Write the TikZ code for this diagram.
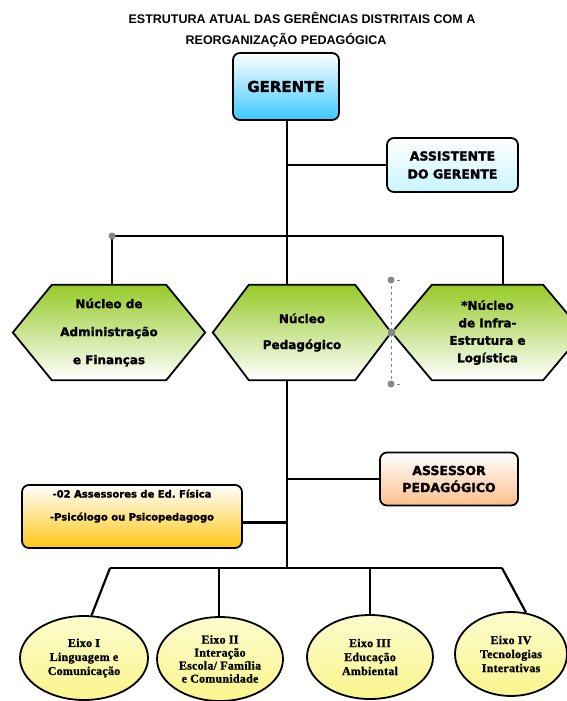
\documentclass[tikz,border=0pt]{standalone}
\usepackage{fontspec}
\setmainfont{Liberation Sans}
\newfontfamily\boxfont{DejaVu Sans}[BoldFeatures={FakeBold=1.6}]
\newfontfamily\eixofont{Liberation Serif}[LetterSpace=2, BoldFeatures={FakeBold=1.2}]
\usetikzlibrary{shapes.geometric, backgrounds}

\definecolor{gerblue}{RGB}{60,200,255}
\definecolor{asscyan}{RGB}{200,245,255}
\definecolor{hexgreen}{RGB}{150,202,40}
\definecolor{peach}{RGB}{255,190,140}
\definecolor{gold}{RGB}{255,200,20}
\definecolor{eixotop}{RGB}{252,252,205}
\definecolor{eixobot}{RGB}{250,245,140}
\definecolor{handle}{RGB}{135,135,135}

% hexagon round a named node: #1 node, #2 inset of the points
\newcommand\hexa[2]{\draw[hexbox] (#1.west) -- ([xshift=#2]#1.north west) -- ([xshift=-#2]#1.north east) -- (#1.east)
    -- ([xshift=-#2]#1.south east) -- ([xshift=#2]#1.south west) -- cycle;}

\begin{document}
\begin{tikzpicture}[x=1pt, y=-1pt,
  conn/.style={line width=2.2pt},
  titulo/.style={font=\bfseries\fontsize{12.5}{14}\selectfont},
  caixa/.style={draw, line width=1.8pt, rounded corners=7pt, inner sep=0pt, align=center, top color=white},
  hexbox/.style={draw, line width=1.8pt, line join=miter, top color=hexgreen, bottom color=white},
  nucleo/.style={inner sep=0pt, minimum height=95pt, align=center, font=\boxfont\bfseries\fontsize{12}{#1}\selectfont},
  eixo/.style={ellipse, draw, line width=1.8pt, inner sep=0pt, minimum width=126pt, minimum height=84pt, align=center,
    top color=eixotop, bottom color=eixobot, font=\eixofont\bfseries\fontsize{12}{14}\selectfont}]
\useasboundingbox (0,0) rectangle (566,701);

\node[titulo] (tit1) at (302,18) {ESTRUTURA ATUAL DAS GERÊNCIAS DISTRITAIS COM A};
\node[titulo] (tit2) at (286,40) {REORGANIZAÇÃO PEDAGÓGICA};

\node[caixa, bottom color=gerblue, minimum width=106pt, minimum height=67pt, font=\boxfont\bfseries\fontsize{15}{18}\selectfont] (gerente) at (286,86.5) {GERENTE};
\node[caixa, bottom color=asscyan, minimum width=131pt, minimum height=54pt, font=\boxfont\bfseries\fontsize{12.5}{18}\selectfont] (assist) at (452.5,165) {ASSISTENTE\\DO GERENTE};

\node[nucleo=28pt, minimum width=192pt] (nadm) at (109,332.5) {Núcleo de\\Administração\\e Finanças};
\node[nucleo=26pt, minimum width=178pt] (nped) at (302,332.5) {Núcleo\\Pedagógico};
\node[nucleo=17.5pt, minimum width=191pt] (ninfra) at (487.5,332.5) {*Núcleo\\de Infra-\\Estrutura e\\Logística};
\begin{scope}[on background layer]
\hexa{nadm}{39pt}
\hexa{nped}{36pt}
\hexa{ninfra}{40pt}
\end{scope}

\node[caixa, bottom color=peach, minimum width=138pt, minimum height=53pt, font=\boxfont\bfseries\fontsize{12.5}{17}\selectfont] (assessor) at (449,479) {ASSESSOR\\PEDAGÓGICO};
\node[caixa, bottom color=gold, minimum width=220pt, minimum height=63pt, font=\boxfont\bfseries\fontsize{10}{23}\selectfont] (apoio) at (132,516.5) {-02 Assessores de Ed.\ Física\\-Psicólogo ou Psicopedagogo\\\mbox{}};

\node[eixo, minimum width=128pt] (eixo1) at (84,658) {Eixo I\\Linguagem e\\Comunicação};
\node[eixo, font=\eixofont\bfseries\fontsize{12}{13}\selectfont] (eixo2) at (220,659) {Eixo II\\Interação\\Escola/ Família\\e Comunidade};
\node[eixo] (eixo3) at (370,657) {Eixo III\\Educação\\Ambiental};
\node[eixo, minimum width=112pt] (eixo4) at (511,654) {Eixo IV\\Tecnologias\\Interativas};

% junctions
\coordinate (busL) at (112,236);
\coordinate (busR) at (503,236);
\coordinate (busB) at (287,568);
\coordinate (b1) at (110,568);
\coordinate (b2) at (219,568);
\coordinate (b3) at (370,568);
\coordinate (b4) at (502,568);
\coordinate (apoioE) at ([yshift=-6pt]apoio.east);

\draw[conn] (gerente.south -| busB) -- (busB |- nped.north);
\draw[conn] (busB |- assist.west) -- (assist.west);
\draw[conn] (busL) -- (busR);
\draw[conn] (busL) -- (busL |- nadm.north);
\draw[conn] (busR) -- (busR |- ninfra.north);
\draw[conn] (busB |- nped.south) -- (busB);
\draw[conn] (busB |- assessor.west) -- (assessor.west);
\draw[conn] (apoioE) -- (busB |- apoioE);
\draw[conn] (b1) -- (b4);
\draw[conn] (b1) -- (eixo1.80);
\draw[conn] (b2) -- (b2 |- eixo2.north);
\draw[conn] (b3) -- (eixo3.north);
\draw[conn] (b4) -- (eixo4.70);

% selection handles
\fill[handle] (busL) circle (3.5pt);
\draw[handle, dashed, thin] (391,280) -- (391,384);
\draw[handle, dashed, thin] (391,280) -- (402,280);
\draw[handle, dashed, thin] (391,384) -- (402,384);
\fill[handle] (391,280) circle (3.5pt);
\fill[handle] (391,384) circle (3.5pt);
\fill[handle] (387.5,328.5) rectangle (394.5,336);

\end{tikzpicture}
\end{document}
